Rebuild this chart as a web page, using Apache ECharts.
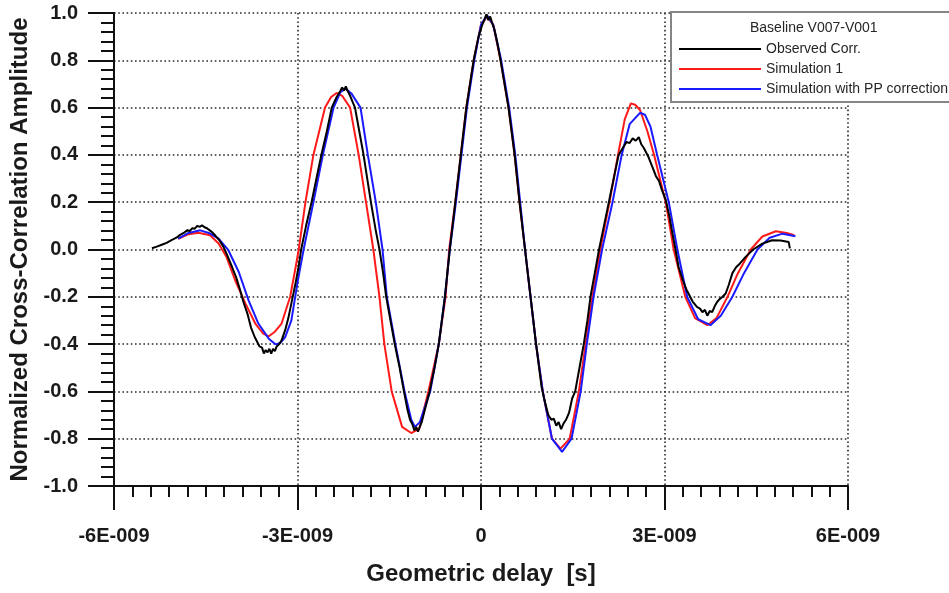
<!DOCTYPE html>
<html>
<head>
<meta charset="utf-8">
<script src="https://cdn.jsdelivr.net/npm/echarts@6/dist/echarts.min.js"></script>
<style>html,body{margin:0;padding:0;background:#fff;}#c{width:949px;height:593px;}</style>
</head>
<body>
<div id="c"></div>
<script>
// x values in units of 1E-009 s
var xTicks = [-6, -3, 0, 3, 6];
var xTickLabels = ['-6E-009', '-3E-009', '0', '3E-009', '6E-009'];
var yTickLabels = ['-1.0','-0.8','-0.6','-0.4','-0.2','0.0','0.2','0.4','0.6','0.8','1.0'];
var legendTitle = 'Baseline V007-V001';
var seriesNames = ['Observed Corr.', 'Simulation 1', 'Simulation with PP correction'];

var obsDelay = [-5.38,-5.30,-5.22,-5.14,-5.06,-4.98,-4.92,-4.86,-4.80,-4.76,-4.72,-4.68,-4.64,-4.60,-4.56,-4.52,-4.48,-4.44,-4.40,-4.34,-4.28,-4.21,-4.14,-4.07,-4.00,-3.94,-3.88,-3.82,-3.76,-3.70,-3.66,-3.62,-3.58,-3.55,-3.52,-3.49,-3.46,-3.43,-3.40,-3.37,-3.34,-3.30,-3.26,-3.20,-3.15,-3.09,-3.03,-2.98,-2.94,-2.86,-2.77,-2.69,-2.61,-2.52,-2.44,-2.36,-2.30,-2.27,-2.24,-2.21,-2.18,-2.14,-2.06,-1.99,-1.92,-1.86,-1.80,-1.72,-1.66,-1.60,-1.55,-1.48,-1.41,-1.33,-1.26,-1.20,-1.16,-1.12,-1.09,-1.06,-1.03,-1.00,-0.97,-0.92,-0.84,-0.76,-0.69,-0.64,-0.59,-0.55,-0.51,-0.42,-0.33,-0.24,-0.12,-0.04,0.02,0.06,0.09,0.12,0.15,0.18,0.22,0.27,0.32,0.45,0.55,0.63,0.72,0.81,0.90,0.99,1.04,1.10,1.15,1.19,1.23,1.27,1.31,1.35,1.39,1.44,1.49,1.54,1.61,1.68,1.74,1.79,1.86,1.93,2.01,2.09,2.17,2.25,2.32,2.38,2.43,2.48,2.53,2.58,2.62,2.66,2.70,2.74,2.80,2.86,2.91,2.96,3.02,3.08,3.13,3.18,3.23,3.30,3.36,3.40,3.46,3.53,3.58,3.62,3.66,3.70,3.74,3.78,3.82,3.86,3.90,3.95,4.00,4.05,4.11,4.17,4.23,4.33,4.45,4.60,4.76,4.90,5.03,5.05];
var obsAmp = [0.005,0.012,0.02,0.028,0.04,0.05,0.062,0.07,0.082,0.078,0.09,0.088,0.1,0.096,0.102,0.094,0.09,0.082,0.074,0.058,0.04,0.011,-0.03,-0.074,-0.12,-0.17,-0.225,-0.27,-0.33,-0.37,-0.39,-0.41,-0.415,-0.44,-0.425,-0.435,-0.42,-0.44,-0.42,-0.43,-0.41,-0.40,-0.384,-0.34,-0.29,-0.215,-0.14,-0.07,0,0.1,0.2,0.3,0.4,0.5,0.6,0.645,0.67,0.685,0.672,0.69,0.67,0.65,0.6,0.5,0.4,0.3,0.2,0.08,0,-0.1,-0.2,-0.3,-0.4,-0.5,-0.6,-0.68,-0.72,-0.74,-0.765,-0.75,-0.77,-0.75,-0.73,-0.68,-0.6,-0.5,-0.4,-0.3,-0.2,-0.1,0,0.2,0.4,0.6,0.8,0.9,0.95,0.975,0.995,0.97,0.985,0.96,0.93,0.87,0.8,0.6,0.4,0.2,0,-0.2,-0.4,-0.58,-0.64,-0.7,-0.72,-0.715,-0.745,-0.73,-0.76,-0.735,-0.72,-0.69,-0.63,-0.6,-0.5,-0.4,-0.3,-0.2,-0.1,0,0.1,0.2,0.3,0.4,0.43,0.455,0.45,0.47,0.46,0.475,0.445,0.43,0.41,0.39,0.35,0.31,0.29,0.25,0.21,0.14,0.067,0,-0.074,-0.13,-0.17,-0.19,-0.22,-0.243,-0.25,-0.265,-0.255,-0.28,-0.26,-0.265,-0.24,-0.222,-0.21,-0.2,-0.186,-0.15,-0.1,-0.075,-0.06,-0.03,0,0.025,0.039,0.038,0.032,0.005];

var sim1Delay = [-4.95,-4.80,-4.62,-4.43,-4.29,-4.16,-4.02,-3.85,-3.69,-3.56,-3.47,-3.38,-3.26,-3.12,-3.03,-2.98,-2.87,-2.74,-2.55,-2.45,-2.36,-2.27,-2.14,-2.00,-1.88,-1.76,-1.66,-1.58,-1.46,-1.29,-1.14,-1.01,-0.86,-0.69,-0.58,-0.52,-0.42,-0.33,-0.24,-0.12,0.00,0.10,0.20,0.32,0.45,0.55,0.63,0.72,0.81,0.90,1.01,1.16,1.30,1.45,1.60,1.71,1.82,1.95,2.10,2.24,2.35,2.45,2.52,2.60,2.72,2.83,3.02,3.15,3.34,3.50,3.70,3.85,4.03,4.20,4.41,4.60,4.82,5.00,5.12];
var sim1Amp = [0.045,0.063,0.071,0.06,0.025,-0.032,-0.13,-0.229,-0.313,-0.356,-0.367,-0.35,-0.313,-0.2,-0.074,0,0.2,0.4,0.6,0.645,0.662,0.65,0.6,0.4,0.2,0,-0.2,-0.4,-0.6,-0.75,-0.776,-0.757,-0.6,-0.4,-0.2,0,0.2,0.4,0.6,0.8,0.95,0.985,0.95,0.8,0.6,0.4,0.2,0,-0.2,-0.4,-0.6,-0.8,-0.842,-0.8,-0.6,-0.4,-0.2,0,0.2,0.4,0.55,0.618,0.612,0.59,0.5,0.4,0.2,0,-0.2,-0.29,-0.32,-0.29,-0.2,-0.1,0,0.055,0.077,0.07,0.06];

var ppDelay = [-4.95,-4.78,-4.59,-4.45,-4.29,-4.13,-3.96,-3.80,-3.64,-3.47,-3.36,-3.28,-3.20,-3.10,-3.00,-2.90,-2.74,-2.585,-2.41,-2.30,-2.21,-2.12,-1.97,-1.85,-1.72,-1.61,-1.54,-1.40,-1.25,-1.14,-1.08,-1.00,-0.83,-0.69,-0.59,-0.51,-0.41,-0.32,-0.23,-0.11,0.00,0.10,0.20,0.33,0.46,0.56,0.64,0.72,0.81,0.90,1.01,1.16,1.325,1.48,1.63,1.73,1.84,1.98,2.15,2.30,2.43,2.60,2.68,2.77,2.88,3.07,3.21,3.37,3.55,3.75,3.92,4.11,4.30,4.52,4.72,4.93,5.14];
var ppAmp = [0.046,0.07,0.081,0.07,0.046,-0.003,-0.095,-0.215,-0.313,-0.377,-0.401,-0.395,-0.37,-0.3,-0.14,0,0.2,0.4,0.6,0.665,0.68,0.66,0.6,0.4,0.2,0,-0.2,-0.4,-0.6,-0.72,-0.75,-0.73,-0.6,-0.4,-0.2,0,0.2,0.4,0.6,0.8,0.95,0.99,0.95,0.8,0.6,0.4,0.2,0,-0.2,-0.4,-0.6,-0.8,-0.856,-0.8,-0.6,-0.4,-0.2,0,0.2,0.4,0.53,0.578,0.57,0.52,0.4,0.2,0,-0.2,-0.295,-0.32,-0.28,-0.2,-0.1,0,0.05,0.067,0.056];

function pairs(xs, ys) { return xs.map(function (x, i) { return [x, ys[i]]; }); }

var FONT = "'Liberation Sans', Arial, sans-serif";
var chart = echarts.init(document.getElementById('c'), null, {renderer: 'canvas'});
var gridLine = {show: true, lineStyle: {color: '#2a2a2a', width: 1.6, type: [1.6, 2.6]}};
chart.setOption({
  animation: false,
  backgroundColor: '#ffffff',
  grid: {left: 114, right: 101, top: 13, bottom: 107, containLabel: false},
  xAxis: {
    type: 'value', min: -6, max: 6, interval: 3,
    name: 'Geometric delay  [s]', nameLocation: 'middle', nameGap: 76,
    nameTextStyle: {fontFamily: FONT, fontWeight: 'bold', fontSize: 24, color: '#1a1a1a'},
    axisLine: {show: true, onZero: false, lineStyle: {color: '#111', width: 2}},
    axisTick: {show: true, inside: false, length: 24, lineStyle: {color: '#111', width: 2}},
    minorTick: {show: true, splitNumber: 10, length: 11, lineStyle: {color: '#111', width: 2}},
    axisLabel: {margin: 40, fontFamily: FONT, fontWeight: 'bold', fontSize: 20, color: '#1a1a1a',
      formatter: function (v) { var i = xTicks.indexOf(Math.round(v)); return i >= 0 ? xTickLabels[i] : ''; }},
    splitLine: gridLine
  },
  yAxis: {
    type: 'value', min: -1, max: 1, interval: 0.2,
    name: 'Normalized Cross-Correlation Amplitude', nameLocation: 'middle', nameGap: 76,
    nameTextStyle: {fontFamily: FONT, fontWeight: 'bold', fontSize: 24, color: '#1a1a1a'},
    axisLine: {show: true, onZero: false, lineStyle: {color: '#111', width: 2}},
    axisTick: {show: true, inside: false, length: 26, lineStyle: {color: '#111', width: 2}},
    minorTick: {show: true, splitNumber: 5, length: 13, lineStyle: {color: '#111', width: 2}},
    axisLabel: {margin: 36, fontFamily: FONT, fontWeight: 'bold', fontSize: 20, color: '#1a1a1a',
      formatter: function (v) { var i = Math.round((v + 1) / 0.2); return yTickLabels[i]; }},
    splitLine: gridLine
  },
  legend: {
    show: true, orient: 'vertical', left: 671, top: 12,
    padding: [30, 12, 6, 8], itemGap: 6, itemWidth: 82, itemHeight: 14,
    icon: 'path://M0,0L82,0L82,2L0,2Z', symbolKeepAspect: true,
    backgroundColor: '#ffffff', borderColor: '#858585', borderWidth: 2, borderRadius: 0,
    data: seriesNames,
    textStyle: {fontFamily: FONT, fontSize: 14, color: '#262626'}
  },
  graphic: [{
    type: 'text', z: 100, left: 813 - 63, top: 21,
    style: {text: legendTitle, font: '14px ' + FONT, fill: '#262626'}
  }],
  series: [
    {name: seriesNames[1], type: 'line', data: pairs(sim1Delay, sim1Amp), symbol: 'none', smooth: false,
      lineStyle: {color: '#ff1a1a', width: 2}, itemStyle: {color: '#ff1a1a'}, z: 2},
    {name: seriesNames[2], type: 'line', data: pairs(ppDelay, ppAmp), symbol: 'none', smooth: false,
      lineStyle: {color: '#1a1aff', width: 2}, itemStyle: {color: '#1a1aff'}, z: 3},
    {name: seriesNames[0], type: 'line', data: pairs(obsDelay, obsAmp), symbol: 'none', smooth: false,
      lineStyle: {color: '#000000', width: 2}, itemStyle: {color: '#000000'}, z: 4}
  ]
});
</script>
</body>
</html>
